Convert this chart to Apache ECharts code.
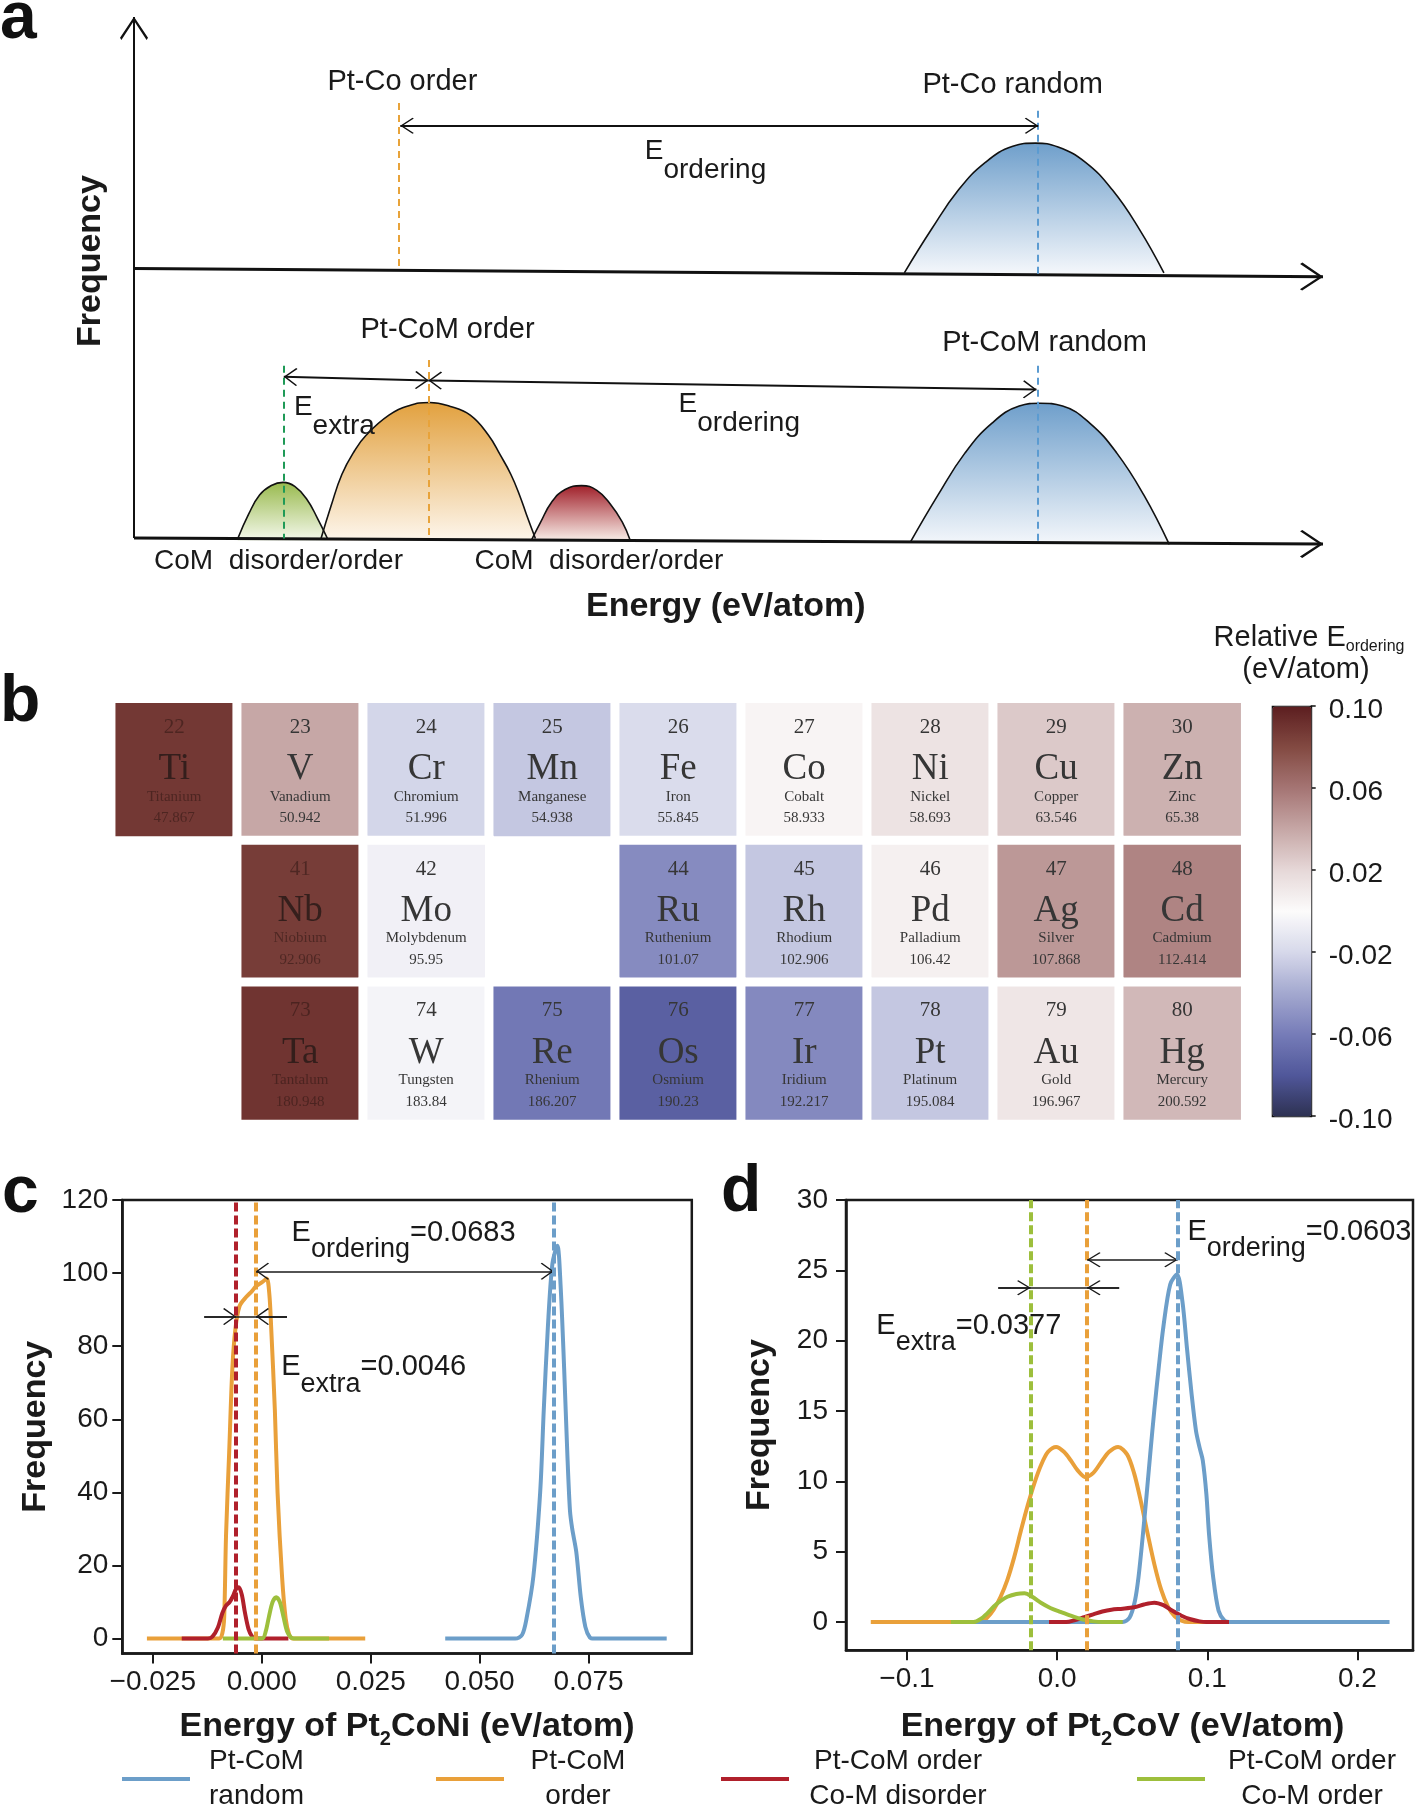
<!DOCTYPE html>
<html><head><meta charset="utf-8">
<script src="https://cdn.jsdelivr.net/npm/echarts@6/dist/echarts.min.js"></script>
<style>html,body{margin:0;padding:0;background:#fff}#chart{width:1418px;height:1813px}</style>
</head><body><div id="chart"></div>
<script>
// ---------------- Panel a : schematic distributions (arbitrary energy 0-100, arbitrary frequency) ----------------
const aCoRandom        = [[64.79,51.15],[67.07,59.46],[69.35,67.0],[71.63,72.29],[73.91,75.31],[75.82,75.92],[77.72,75.16],[80.0,72.29],[82.28,67.0],[84.56,59.46],[86.62,51.15]];
const aCoMOrder        = [[15.73,0.41],[16.57,6.6],[17.48,12.64],[18.55,17.17],[19.54,20.18],[21.44,23.96],[23.12,25.78],[24.86,26.39],[26.61,25.63],[28.28,23.96],[29.8,20.18],[30.79,16.42],[31.7,12.64],[32.46,8.5],[32.99,5.1],[33.76,0.41]];
const aCoMOrdOrder     = [[8.73,0.41],[9.65,5.1],[10.56,8.71],[11.55,10.53],[12.54,11.13],[13.52,10.37],[14.52,7.96],[15.42,4.33],[16.27,0.41]];
const aCoMOrdDisorder  = [[33.45,0.19],[34.21,3.59],[35.12,7.35],[36.26,9.78],[37.64,10.52],[38.93,9.62],[40.07,6.97],[41.06,3.59],[41.74,0.04]];
const aCoMRandom       = [[65.32,-0.19],[67.6,8.64],[69.88,16.72],[72.16,22.45],[74.45,25.7],[76.2,26.24],[78.1,25.7],[80.38,22.45],[82.66,16.72],[84.95,8.64],[87.07,-0.72]];
const aTopBase = 51.0;
const aRefX = { coOrder: 22.3, coRandom: 76.05, comExtra: 12.56, comOrder: 24.78, comRandom: 75.97 };
const aRefTop = { coOrder: 83.6, coRandom: 82.1, comExtra: 33.4, comOrder: 34.5, comRandom: 33.4 };
const aTopAxis = [[0,51.96],[100,50.41]];
const aBottomAxis = [[0,0.52],[100,-0.63]];
const aVertAxis = [[0,0.52],[0,100]];
const aArrowTop = [[22.4,79.24],[76.05,79.24]];
const aArrowBottom = [[12.6,31.3],[24.77,30.61],[75.9,28.87]];
const aTexts = [
  [22.57,87.55,'Pt-Co order'],[73.9,87.02,'Pt-Co random'],
  [26.37,40.2,'Pt-CoM order'],[76.58,37.71,'Pt-CoM random']
];
const aAxisTexts = [[12.15,-3.97,'CoM  disorder/order'],[39.1,-3.97,'CoM  disorder/order']];
const aETexts = [[42.96,74.18,'ordering'],[13.45,25.28,'extra'],[45.8,25.85,'ordering']];

// ---------------- Panel b : periodic table, relative E_ordering (eV/atom) ----------------
const ptNumbers = [[22,23,24,25,26,27,28,29,30],[null,41,42,null,44,45,46,47,48],[null,73,74,75,76,77,78,79,80]];
const ptSymbols = [['Ti','V','Cr','Mn','Fe','Co','Ni','Cu','Zn'],[null,'Nb','Mo',null,'Ru','Rh','Pd','Ag','Cd'],[null,'Ta','W','Re','Os','Ir','Pt','Au','Hg']];
const ptNames = [['Titanium','Vanadium','Chromium','Manganese','Iron','Cobalt','Nickel','Copper','Zinc'],
  [null,'Niobium','Molybdenum',null,'Ruthenium','Rhodium','Palladium','Silver','Cadmium'],
  [null,'Tantalum','Tungsten','Rhenium','Osmium','Iridium','Platinum','Gold','Mercury']];
const ptMasses = [['47.867','50.942','51.996','54.938','55.845','58.933','58.693','63.546','65.38'],
  [null,'92.906','95.95',null,'101.07','102.906','106.42','107.868','112.414'],
  [null,'180.948','183.84','186.207','190.23','192.217','195.084','196.967','200.592']];
const ptValues = [[0.088,0.040,-0.021,-0.027,-0.018,0.004,0.014,0.026,0.036],
  [null,0.086,-0.006,null,-0.053,-0.027,0.006,0.046,0.054],
  [null,0.090,-0.004,-0.062,-0.075,-0.054,-0.027,0.012,0.033]];
const cbTicks = [-0.10,-0.06,-0.02,0.02,0.06,0.10];
const cbColors = ['#2d3152','#50579a','#767cb8','#a3a8cf','#d6d8ea','#fcfbfb','#e6d8d8','#c6a7a6','#a57574','#834a42','#5c1e20'];

// ---------------- Panel c : Pt2CoNi ----------------
const cRandom = [[0.04211,0],[0.05819,0],[0.05975,1],[0.06078,5.5],[0.06234,17],[0.0639,40],[0.06473,62.6],[0.06566,85],[0.0667,102.5],[0.06784,107.5],[0.06857,97],[0.0694,74],[0.07012,51],[0.07074,35],[0.07126,30],[0.07219,23.7],[0.07323,11.2],[0.07427,3.2],[0.07531,0.3],[0.07634,0],[0.09294,0]];
const cOrder = [[-0.02635,0],[-0.00975,0],[-0.00903,1.5],[-0.00861,6],[-0.0082,28],[-0.00747,51],[-0.00674,74],[-0.00602,85],[-0.00508,91],[-0.00353,93.5],[-0.00228,95],[-0.00125,96.5],[0.0001,97.5],[0.00114,98.5],[0.00176,94],[0.00217,85],[0.00301,62.6],[0.00363,40],[0.00466,17],[0.00549,5.5],[0.00632,1],[0.00716,0],[0.02375,0]];
const cDisorder = [[-0.01836,0],[-0.01234,0],[-0.01131,0.5],[-0.01006,3],[-0.00903,7],[-0.0082,9],[-0.00737,10],[-0.00664,11.5],[-0.00591,13.5],[-0.00529,14],[-0.00457,12],[-0.00384,7],[-0.00301,2.5],[-0.00218,0.5],[-0.00135,0],[0.00612,0]];
const cOrdered = [[-0.00892,0],[0.0001,0],[0.00093,2],[0.00166,6],[0.00249,10],[0.00332,11.3],[0.00415,10],[0.00498,6],[0.00581,2],[0.00664,0.4],[0.00736,0],[0.01545,0]];
const cLines = { red: -0.0059, orange: -0.0013, blue: 0.0670 };
const cArrowY = { ordering: 100.5, extra: 88.1 };
const cExtraSpan = [-0.0132, 0.0058];
const cLabelPos = { ordering: [0.00684,110.8], extra: [0.00446,74.0] };
const cXTicks = [-0.025,0,0.025,0.05,0.075];
const cYTicks = [0,20,40,60,80,100,120];

// ---------------- Panel d : Pt2CoV ----------------
const dRandom = [[-0.06476,0],[0.04367,0],[0.04819,0.3],[0.0518,1.5],[0.05421,3.2],[0.05693,6],[0.05964,9.1],[0.06205,12],[0.06476,15.1],[0.06777,18.2],[0.07078,21],[0.0753,24],[0.07982,24.7],[0.08343,22.8],[0.08644,19.5],[0.08946,16.3],[0.09247,13.6],[0.09488,12.4],[0.09698,11.5],[0.09939,9.1],[0.1012,6.2],[0.10391,3.2],[0.10753,0.8],[0.11144,0.1],[0.11445,0],[0.22138,0]];
const dOrder = [[-0.1241,0],[-0.05121,0],[-0.04669,0.3],[-0.04217,0.9],[-0.03765,1.8],[-0.03313,3.0],[-0.02862,4.6],[-0.0241,6.5],[-0.01958,8.3],[-0.01506,9.9],[-0.01054,11.2],[-0.00602,12.1],[-0.0006,12.45],[0.00452,12.1],[0.00903,11.5],[0.01355,10.8],[0.01898,10.3],[0.02409,10.6],[0.02952,11.4],[0.03464,12.1],[0.04066,12.45],[0.04668,11.9],[0.0512,10.6],[0.05572,8.6],[0.06024,6.3],[0.06476,4.1],[0.06928,2.3],[0.0738,1.1],[0.07831,0.4],[0.08283,0.1],[0.08735,0],[0.15512,0]];
const dDisorder = [[-0.00542,0],[0.00602,0],[0.01205,0.15],[0.01807,0.35],[0.0241,0.55],[0.03012,0.75],[0.03614,0.88],[0.04367,0.95],[0.0512,1.05],[0.05783,1.25],[0.06476,1.38],[0.07078,1.2],[0.07681,0.8],[0.08283,0.45],[0.08885,0.2],[0.09488,0.05],[0.0994,0],[0.11445,0]];
const dOrdered = [[-0.07078,0],[-0.05572,0],[-0.05121,0.2],[-0.04669,0.6],[-0.04217,1.1],[-0.03765,1.5],[-0.03313,1.8],[-0.02711,2.0],[-0.02169,2.05],[-0.01657,1.8],[-0.01054,1.35],[-0.00452,1.0],[0.00151,0.75],[0.00904,0.45],[0.01657,0.2],[0.0241,0.05],[0.03012,0],[0.04367,0]];
const dLines = { green: -0.0177, orange: 0.0200, blue: 0.0803 };
const dArrowY = { ordering: 25.76, extra: 23.77 };
const dExtraSpan = [-0.0392, 0.0413];
const dLabelPos = { ordering: [0.0868,27.67], extra: [-0.1204,21.0] };
const dXTicks = [-0.1,0,0.1,0.2];
const dYTicks = [0,5,10,15,20,25,30];

const seriesNames = ['Pt-CoM random','Pt-CoM order','Pt-CoM order Co-M disorder','Pt-CoM order Co-M order'];
const legendLines = [['Pt-CoM','random'],['Pt-CoM','order'],['Pt-CoM order','Co-M disorder'],['Pt-CoM order','Co-M order']];

// ---------------- styling ----------------
const SANS = '"Liberation Sans", Arial, Helvetica, sans-serif';
const SERIF = '"Liberation Serif", "Times New Roman", serif';
const INK = '#1a1a1a';
const BLUE = '#6c9ec9', ORANGE = '#e9a03a', RED = '#b0202b', GREEN = '#9dbf3c';
const CHEV = 'path://M0,9.2L10,0L20,9.2L19,10.2L10,1.8L1,10.2Z M9.97,-10L10.03,-10L10,-9.95Z';

const chart = echarts.init(document.getElementById('chart'));
const grad = (c1, c2) => new echarts.graphic.LinearGradient(0,0,0,1,[{offset:0,color:c1},{offset:1,color:c2}]);

function seg(p1, p2, style, s1, s2, size) {
  return [
    { coord: p1, lineStyle: style, symbol: s1 ? CHEV : 'none', symbolSize: size || [16,27] },
    { coord: p2, symbol: s2 ? CHEV : 'none', symbolSize: size || [16,27] }
  ];
}
function plainLabel(pos, text, extra) {
  return { coord: [pos[0], pos[1]], label: Object.assign({ show:true, position:'inside', formatter:text, color:INK, fontFamily:SANS, fontSize:29 }, extra || {}) };
}
function eLabel(pos, sub, rest, fs, subFs, pad, offY) {
  const base = { fontSize:fs, lineHeight:fs, verticalAlign:'top', fontFamily:SANS, color:INK };
  return { coord: pos, label: { show:true, position:'right', distance:0, offset:[0,offY],
    formatter: '{E|E}{s|' + sub + '}' + (rest ? '{n|' + rest + '}' : ''),
    rich: { E: base, n: base, s: { fontSize:subFs, lineHeight:subFs, padding:[pad,0,0,0], verticalAlign:'top', fontFamily:SANS, color:INK } } } };
}

// ---- panel a series ----
const axisStyle = { color:'#111', width:3, type:'solid' };
const dashA = c => ({ color:c, width:2, type:[7,5] });
const aMarkLines = [
  seg(aVertAxis[0], aVertAxis[1], { color:'#111', width:2, type:'solid' }, false, true, [28,46]),
  seg(aTopAxis[0], aTopAxis[1], axisStyle, false, true, [28,46]),
  seg(aBottomAxis[0], aBottomAxis[1], axisStyle, false, true, [28,46]),
  seg([aRefX.coOrder, aRefTop.coOrder], [aRefX.coOrder, 51.6], dashA('#e8a33a')),
  seg([aRefX.coRandom, aRefTop.coRandom], [aRefX.coRandom, 50.8], dashA('#5b9bd1')),
  seg([aRefX.comExtra, aRefTop.comExtra], [aRefX.comExtra, 0.4], dashA('#1f9a57')),
  seg([aRefX.comOrder, aRefTop.comOrder], [aRefX.comOrder, 0.3], dashA('#e8a33a')),
  seg([aRefX.comRandom, aRefTop.comRandom], [aRefX.comRandom, -0.4], dashA('#5b9bd1')),
  seg(aArrowTop[0], aArrowTop[1], { color:'#111', width:2, type:'solid' }, true, true, [16,27]),
  seg(aArrowBottom[0], aArrowBottom[1], { color:'#111', width:2, type:'solid' }, true, true, [18,27]),
  seg(aArrowBottom[1], aArrowBottom[2], { color:'#111', width:2, type:'solid' }, true, true, [18,27])
];
const aMarkPoints = aTexts.map(t => plainLabel([t[0], t[1]], t[2]))
  .concat(aAxisTexts.map(t => plainLabel([t[0], t[1]], t[2], { fontSize:28 })))
  .concat(aETexts.map(t => eLabel([t[0], t[1]], t[2], '', 28, 28, 19, -1)))
  .concat([
    plainLabel([49.77,-12.66], 'Energy (eV/atom)', { fontSize:34, fontWeight:'bold' }),
    plainLabel([-3.67,53.4], 'Frequency', { fontSize:34, fontWeight:'bold', rotate:90 })
  ]);

function bump(name, data, c1, c2, origin, extra) {
  return Object.assign({
    name, type:'line', xAxisIndex:0, yAxisIndex:0, data, smooth:0.45, showSymbol:false, clip:false, silent:true,
    lineStyle:{ color:'#111', width:1.6 }, itemStyle:{ color:'#111' },
    areaStyle:{ color: grad(c1, c2), opacity:1, origin }
  }, extra || {});
}

const mlBase = { silent:true, symbol:['none','none'], label:{show:false}, animation:false, precision:8 };
const mpBase = { silent:true, symbol:'circle', symbolSize:0, itemStyle:{color:'rgba(0,0,0,0)'}, precision:8 };

const series = [
  bump('aCoRandom', aCoRandom, '#6f9fcb', '#f4f7fb', aTopBase, {
    markLine: Object.assign({}, mlBase, { data: aMarkLines }),
    markPoint: Object.assign({}, mpBase, { data: aMarkPoints })
  }),
  bump('aCoMOrder', aCoMOrder, '#e2a13f', '#fdf6ec', 0),
  bump('aCoMOrdOrder', aCoMOrdOrder, '#99ba4e', '#f4f8ec', 0),
  bump('aCoMOrdDisorder', aCoMOrdDisorder, '#a1212b', '#f8eee8', 0),
  bump('aCoMRandom', aCoMRandom, '#6f9fcb', '#f4f7fb', 0)
];

// ---- panel b heatmap ----
const heatData = [], heatInfo = [];
for (let r = 0; r < ptSymbols.length; r++) {
  for (let c = 0; c < ptSymbols[r].length; c++) {
    if (ptSymbols[r][c] == null) continue;
    heatData.push([c, r, ptValues[r][c]]);
    heatInfo.push([ptNumbers[r][c], ptSymbols[r][c], ptNames[r][c], ptMasses[r][c]]);
  }
}
const lightTxt = '#363636', darkTxt = 'rgba(45,22,18,0.55)', darkSym = 'rgba(45,28,25,0.9)';
const cellRich = {};
[['', lightTxt, lightTxt], ['d', darkTxt, darkSym]].forEach(([k, t, s]) => {
  cellRich['n' + k] = { fontFamily:SERIF, fontSize:21, lineHeight:43.4, color:t };
  cellRich['s' + k] = { fontFamily:SERIF, fontSize:37, lineHeight:41.2, color:s };
  cellRich['m' + k] = { fontFamily:SERIF, fontSize:15, lineHeight:12.8, color:t };
  cellRich['w' + k] = { fontFamily:SERIF, fontSize:15, lineHeight:30.6, color:t };
});
series.push({
  name:'ptHeat', type:'heatmap', xAxisIndex:1, yAxisIndex:1, data: heatData, silent:true,
  itemStyle:{ borderColor:'#ffffff', borderWidth:9 },
  emphasis:{ disabled:true },
  label:{ show:true, rich: cellRich, formatter: p => {
    const info = heatInfo[p.dataIndex]; const k = p.value[2] > 0.07 ? 'd' : '';
    return `{n${k}|${info[0]}}\n{s${k}|${info[1]}}\n{m${k}|${info[2]}}\n{w${k}|${info[3]}}`;
  } }
});

// ---- panels c / d ----
const dashed = c => ({ color:c, width:4, type:[9,4] });
const arrowStyle = { color:INK, width:1.6, type:'solid' };
function kde(name, color, data, xi, extra) {
  return Object.assign({
    name, type:'line', xAxisIndex:xi, yAxisIndex:xi, data, smooth:0.3, showSymbol:false, silent:true,
    lineStyle:{ color, width:4 }, itemStyle:{ color }
  }, extra || {});
}

// panel c
series.push(kde(seriesNames[1], ORANGE, cOrder, 3, {
  markLine: Object.assign({}, mlBase, { data: [
    { xAxis: cLines.orange, lineStyle: dashed(ORANGE) },
    seg([cLines.orange, cArrowY.ordering], [cLines.blue, cArrowY.ordering], arrowStyle, true, true, [17,26]),
    seg([cExtraSpan[0], cArrowY.extra], [cExtraSpan[1], cArrowY.extra], arrowStyle, false, false),
    seg([cExtraSpan[0], cArrowY.extra], [cLines.red, cArrowY.extra], arrowStyle, false, true, [17,26]),
    seg([cExtraSpan[1], cArrowY.extra], [cLines.orange, cArrowY.extra], arrowStyle, false, true, [17,26])
  ] }),
  markPoint: Object.assign({}, mpBase, { data: [
    eLabel(cLabelPos.ordering, 'ordering', '=0.0683', 29, 27, 18, -1),
    eLabel(cLabelPos.extra, 'extra', '=0.0046', 29, 27, 18, -1)
  ] })
}));
series.push(kde(seriesNames[0], BLUE, cRandom, 3, { markLine: Object.assign({}, mlBase, { data: [{ xAxis: cLines.blue, lineStyle: dashed(BLUE) }] }) }));
series.push(kde(seriesNames[2], RED, cDisorder, 3, { markLine: Object.assign({}, mlBase, { data: [{ xAxis: cLines.red, lineStyle: dashed(RED) }] }) }));
series.push(kde(seriesNames[3], GREEN, cOrdered, 3));

// panel d
series.push(kde(seriesNames[1], ORANGE, dOrder, 4, {
  markLine: Object.assign({}, mlBase, { data: [
    { xAxis: dLines.orange, lineStyle: dashed(ORANGE) },
    seg([dLines.orange, dArrowY.ordering], [dLines.blue, dArrowY.ordering], arrowStyle, true, true, [15,27]),
    seg([dExtraSpan[0], dArrowY.extra], [dExtraSpan[1], dArrowY.extra], arrowStyle, false, false),
    seg([dExtraSpan[0], dArrowY.extra], [dLines.green, dArrowY.extra], arrowStyle, false, true, [15,27]),
    seg([dExtraSpan[1], dArrowY.extra], [dLines.orange, dArrowY.extra], arrowStyle, false, true, [15,27])
  ] }),
  markPoint: Object.assign({}, mpBase, { data: [
    eLabel(dLabelPos.ordering, 'ordering', '=0.0603', 29, 27, 18, -1),
    eLabel(dLabelPos.extra, 'extra', '=0.0377', 29, 27, 18, -1)
  ] })
}));
series.push(kde(seriesNames[0], BLUE, dRandom, 4, { markLine: Object.assign({}, mlBase, { data: [{ xAxis: dLines.blue, lineStyle: dashed(BLUE) }] }) }));
series.push(kde(seriesNames[2], RED, dDisorder, 4));
series.push(kde(seriesNames[3], GREEN, dOrdered, 4, { markLine: Object.assign({}, mlBase, { data: [{ xAxis: dLines.green, lineStyle: dashed(GREEN) }] }) }));

// ---- axes ----
const minusFmt = d => v => (v < 0 ? '\u2212' : '') + Math.abs(v).toFixed(d);
const nameRich = {
  t: { fontSize:34, fontWeight:'bold', lineHeight:34, verticalAlign:'top', fontFamily:SANS, color:INK },
  s: { fontSize:20, fontWeight:'bold', lineHeight:20, padding:[20,0,0,0], verticalAlign:'top', fontFamily:SANS, color:INK }
};
function plotX(gi, min, max, ticks, dec, name, gap, pad) {
  return { gridIndex:gi, type:'value', min, max,
    axisLine:{ show:true, onZero:false, lineStyle:{ color:INK, width:2.5 } },
    axisTick:{ show:true, length:10, customValues:ticks, lineStyle:{ color:INK, width:2 } },
    axisLabel:{ customValues:ticks, formatter:minusFmt(dec), fontSize:28, color:INK, fontFamily:SANS, margin:15 },
    splitLine:{ show:false },
    name, nameLocation:'middle', nameGap:gap,
    nameTextStyle:{ fontSize:34, fontWeight:'bold', fontFamily:SANS, color:INK, rich:nameRich, padding:pad } };
}
function plotY(gi, min, max, ticks, margin, gap) {
  return { gridIndex:gi, type:'value', min, max,
    axisLine:{ show:true, onZero:false, lineStyle:{ color:INK, width:2.5 } },
    axisTick:{ show:true, length:10, customValues:ticks, lineStyle:{ color:INK, width:2 } },
    axisLabel:{ customValues:ticks, fontSize:28, color:INK, fontFamily:SANS, margin },
    splitLine:{ show:false },
    name:'Frequency', nameLocation:'middle', nameGap:gap,
    nameTextStyle:{ fontSize:34, fontWeight:'bold', fontFamily:SANS, color:INK } };
}

const legends = seriesNames.map((n, i) => {
  const lefts = [122, 436, 721, 1137], widths = [123, 138, 208, 204];
  return { data:[n], left:lefts[i], top:1747.5, padding:0, icon:'rect', itemWidth:68, itemHeight:4, selectedMode:false,
    formatter: () => '{a|' + legendLines[i][0] + '}\n{a|' + legendLines[i][1] + '}',
    textStyle:{ rich:{ a:{ width:widths[i], align:'center', fontSize:28, lineHeight:35, fontFamily:SANS, color:INK } } } };
});

const letter = (t, x, y) => ({ type:'text', x, y, silent:true, style:{ text:t, fontSize:66, fontWeight:'bold', fontFamily:SANS, fill:'#111', align:'left', verticalAlign:'middle' } });

chart.setOption({
  animation:false,
  backgroundColor:'#ffffff',
  grid:[
    { left:62.66, top:17, width:1260.34, height:597 },
    { left:111.2, top:698.8, width:1134, height:425.1 },
    { left:1271.7, top:705.7, width:39, height:410 },
    { left:122.3, top:1200, width:569.5, height:453.5, show:true, borderColor:INK, borderWidth:2.5 },
    { left:846, top:1200, width:567, height:450.2, show:true, borderColor:INK, borderWidth:2.5 }
  ],
  xAxis:[
    { gridIndex:0, type:'value', min:-6, max:100, show:false },
    { gridIndex:1, type:'category', data:[0,1,2,3,4,5,6,7,8], show:false },
    { gridIndex:2, type:'value', min:0, max:1, show:false },
    plotX(3, -0.032, 0.0987, cXTicks, 3, '{t|Energy of Pt}{s|2}{t|CoNi (eV/atom)}', 56, [0,0,0,0]),
    plotX(4, -0.1406, 0.237, dXTicks, 1, '{t|Energy of Pt}{s|2}{t|CoV (eV/atom)}', 59, [0,14,0,0])
  ],
  yAxis:[
    { gridIndex:0, type:'value', min:-14, max:100, show:false },
    { gridIndex:1, type:'category', data:[0,1,2], inverse:true, show:false },
    { gridIndex:2, type:'value', min:-0.1, max:0.1, position:'right',
      axisLine:{ show:false, onZero:false },
      axisTick:{ show:true, length:5, customValues:cbTicks, lineStyle:{ color:'#111', width:1.5 } },
      axisLabel:{ customValues:cbTicks, formatter: v => '{t|' + v.toFixed(2) + '}', margin:18,
        rich:{ t:{ fontSize:28, lineHeight:28, padding:[9,0,0,0], color:INK, fontFamily:SANS } } },
      splitLine:{ show:false } },
    plotY(3, -4.1, 120, cYTicks, 14, 70),
    plotY(4, -2, 30, dYTicks, 18, 69)
  ],
  visualMap:{ type:'continuous', seriesIndex:5, min:-0.1, max:0.1, left:1271.7, top:705.7, itemWidth:39, itemHeight:410,
    padding:0, calculable:false, realtime:false, hoverLink:false, borderColor:'#111', borderWidth:1.5,
    inRange:{ color:cbColors } },
  legend: legends,
  graphic:[
    letter('a', 0, 20), letter('b', 0, 703), letter('c', 2, 1194), letter('d', 721, 1193),
    { type:'text', x:1309, y:638, silent:true, style:{ text:'{m|Relative E}{s|ordering}', align:'center', verticalAlign:'middle', fill:INK,
      rich:{ m:{ fontSize:29, lineHeight:29, verticalAlign:'top', fontFamily:SANS, fill:INK }, s:{ fontSize:16, lineHeight:16, padding:[15,0,0,0], verticalAlign:'top', fontFamily:SANS, fill:INK } } } },
    { type:'text', x:1306, y:670, silent:true, style:{ text:'(eV/atom)', fontSize:29, fontFamily:SANS, fill:INK, align:'center', verticalAlign:'middle' } }
  ],
  series
});
</script>
</body></html>
